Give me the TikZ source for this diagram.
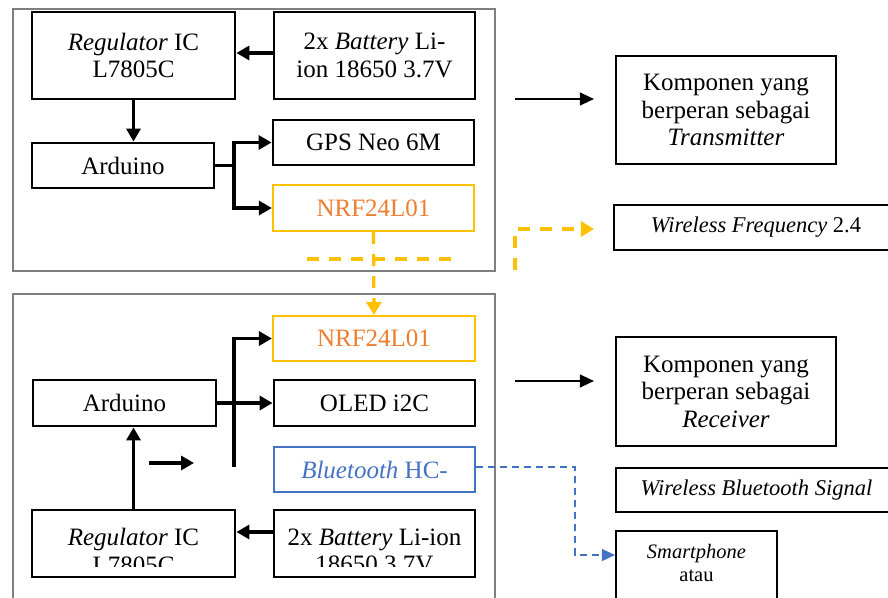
\documentclass[tikz,border=0pt]{standalone}
\usepackage{fontspec}
\setmainfont{Liberation Serif}
\usetikzlibrary{arrows.meta}
\definecolor{nrfy}{HTML}{FFC000}
\definecolor{nrfo}{HTML}{ED7D31}
\definecolor{btb}{HTML}{4472C4}
\definecolor{frameg}{HTML}{7F7F7F}
\tikzset{
  box/.style={draw=black, line width=2.8pt, rectangle, align=center, inner sep=0pt,
    font=\fontsize{25}{27.5}\selectfont},
  rbox/.style={box, line width=2.2pt},
  ybox/.style={box, draw=nrfy, line width=2.2pt, text=nrfo},
  bbox/.style={box, draw=btb, line width=2.2pt, text=btb},
  frm/.style={draw=frameg, line width=1.2pt},
  thk/.style={line width=3.5pt, -{Triangle[length=13pt,width=14pt]}},
  thn/.style={line width=1.4pt, -{Triangle[length=14pt,width=13pt]}},
  ydash/.style={draw=nrfy, line width=3.2pt, dash pattern=on 12pt off 10pt},
  yarr/.style={ydash, -{Triangle[length=13pt,width=15pt]}},
  bdash/.style={draw=btb, line width=1.6pt, dash pattern=on 7pt off 5pt, -{Triangle[length=13pt,width=12pt]}},
  txt/.style={align=center, inner sep=0pt, font=\fontsize{25}{27.5}\selectfont}
}
\begin{document}
\begin{tikzpicture}[x=1pt,y=-1pt]
\useasboundingbox (0,0) rectangle (888,597);
\clip (0,0) rectangle (888,597);
% frames
\draw[frm] (13,9) rectangle (495,271);
\draw[frm] (13,294) rectangle (495,640);
% top (transmitter)
\node[box, minimum width=203pt, minimum height=87pt] (reg1) at (133.5,55.5) {\textit{Regulator} IC\\L7805C};
\node[box, minimum width=201pt, minimum height=87pt] (bat1) at (374.5,55.5) {2x \textit{Battery} Li-\\ion 18650 3.7V};
\node[box, minimum width=182pt, minimum height=45pt] (ard1) at (123,165.5) {Arduino};
\node[box, minimum width=201pt, minimum height=45pt] (gps) at (373.5,142.5) {GPS Neo 6M};
\node[ybox, minimum width=201pt, minimum height=46pt] (nrf1) at (373.5,208) {NRF24L01};
\node[rbox, minimum width=220pt, minimum height=108pt] (tx) at (726,110) {Komponen yang\\berperan sebagai\\\textit{Transmitter}};
\node[rbox, minimum width=284pt, minimum height=45pt, font=\fontsize{22.5}{26}\selectfont] (wf) at (756,227.5) {\textit{Wireless Frequency} 2.4};
% bottom (receiver)
\node[ybox, minimum width=202pt, minimum height=45pt] (nrf2) at (374,338.5) {NRF24L01};
\node[box, minimum width=183pt, minimum height=46pt] (ard2) at (124.5,403) {Arduino};
\node[box, minimum width=201pt, minimum height=46pt] (oled) at (374.5,403) {OLED i2C};
\node[bbox, minimum width=201pt, minimum height=45pt] (bt) at (374.5,469.5) {\textit{Bluetooth} HC-};
\node[box, minimum width=203pt, minimum height=67pt] (reg2) at (133.5,543.5) {};
\node[box, minimum width=201pt, minimum height=67pt] (bat2) at (374.5,543.5) {};
\begin{scope}
\clip (32,510) rectangle (235,566);
\node[txt] (reg2t) at (133.5,551) {\textit{Regulator} IC\\L7805C};
\end{scope}
\begin{scope}
\clip (274,510) rectangle (475,566);
\node[txt] (bat2t) at (374.5,551) {2x \textit{Battery} Li-ion\\18650 3.7V};
\end{scope}
\node[rbox, minimum width=220pt, minimum height=109pt] (rx) at (726,391.5) {Komponen yang\\berperan sebagai\\\textit{Receiver}};
\node[rbox, minimum width=281pt, minimum height=44pt, font=\fontsize{22.5}{26}\selectfont] (wbs) at (756.5,490) {\textit{Wireless Bluetooth Signal}};
\node[rbox, minimum width=161pt, minimum height=94pt, font=\fontsize{20.5}{23}\selectfont] (sp) at (696.5,578) {\textit{Smartphone}\\atau\\\strut};
% coordinates
\coordinate (br1) at (234,165.5);
\coordinate (br2) at (234,403);
\coordinate (br2end) at (234,467);
\coordinate (ya) at (307,259);
\coordinate (yb) at (455,259);
\coordinate (yc) at (515,270);
\coordinate (yd) at (515,229);
\coordinate (ta) at (515,99);
\coordinate (ra) at (515,381);
\coordinate (sa) at (149,463);
\coordinate (sb) at (194,463);
\coordinate (bcorner) at (575,555);
% top connectors
\draw[thk] ([yshift=2.5pt]bat1.west) -- ([yshift=2.5pt]reg1.east);
\draw[thk] (reg1.south) -- (reg1.south |- ard1.north);
\draw[line width=3.5pt] (ard1.east) -- (br1);
\draw[thk] (br1) |- (gps.west);
\draw[thk] (br1) |- (nrf1.west);
\draw[thn, shorten >=21pt] (ta) -- (ta -| tx.west);
% yellow dashed
\draw[yarr] (nrf1.south) -- (nrf2.north);
\draw[ydash] (ya) -- (yb);
\draw[yarr, shorten >=19pt] (yc) -- (yd) -- (yd -| wf.west);
% bottom connectors
\draw[line width=3.5pt] (ard2.east) -- (br2);
\draw[thk] (br2) |- (nrf2.west);
\draw[thk] (br2) -- (oled.west);
\draw[line width=3.5pt] (br2) -- (br2end);
\draw[thk] (reg2.north) -- (reg2.north |- ard2.south);
\draw[thk] ([yshift=11.5pt]bat2.west) -- ([yshift=11.5pt]reg2.east);
\draw[thk] (sa) -- (sb);
\draw[thn, shorten >=21pt] (ra) -- (ra -| rx.west);
\draw[bdash] ([yshift=2.5pt]bt.east) -| (bcorner) -- (bcorner -| sp.west);
\end{tikzpicture}
\end{document}
